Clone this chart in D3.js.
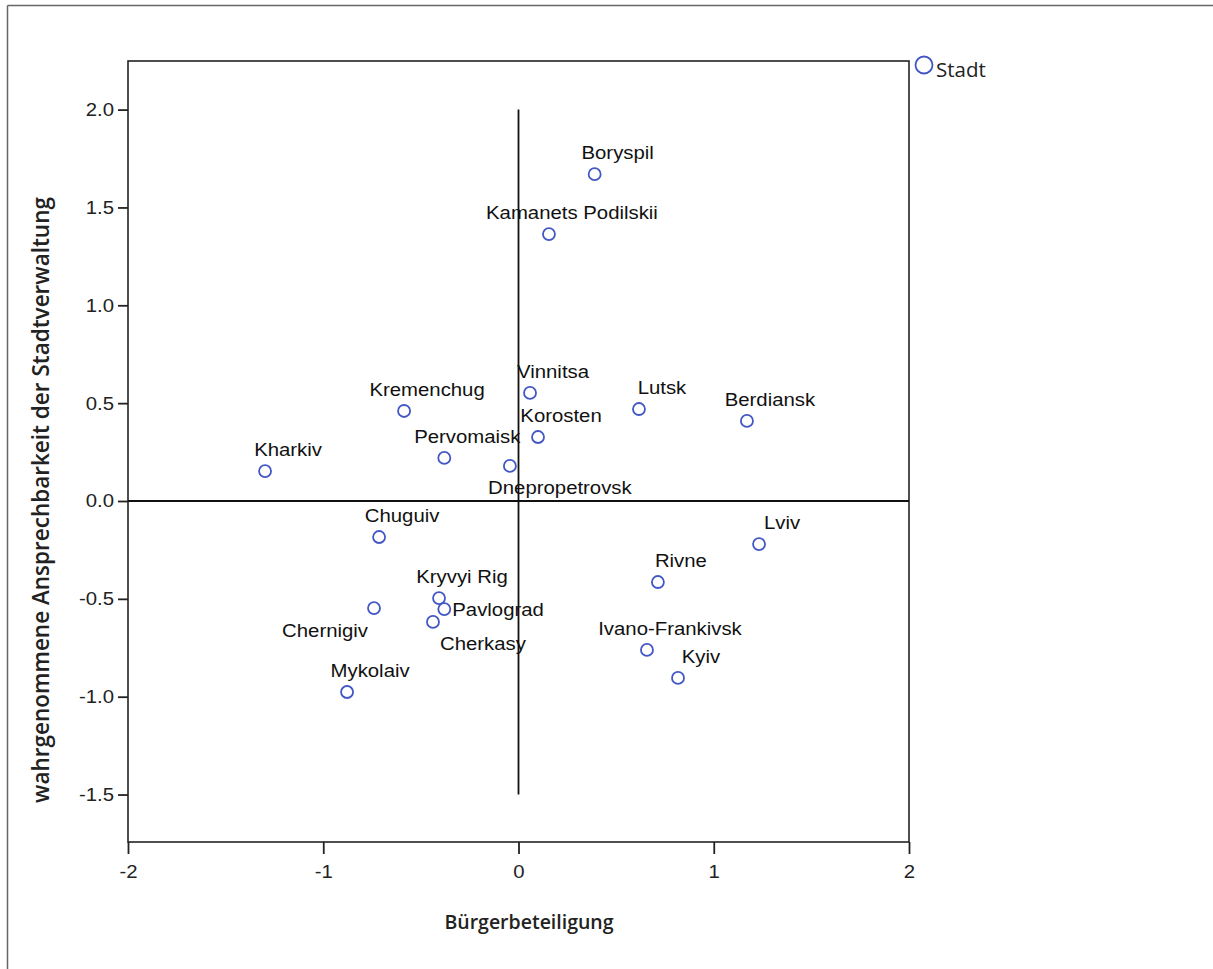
<!DOCTYPE html>
<html><head><meta charset="utf-8">
<script src="https://cdn.jsdelivr.net/npm/d3@7"></script>
<style>body{margin:0;background:#fff}svg{display:block}</style>
</head><body>
<svg id="chart" width="1213" height="969"></svg>
<script>
const cities = ["Boryspil","Kamanets Podilskii","Vinnitsa","Lutsk","Berdiansk","Kremenchug","Korosten","Pervomaisk","Dnepropetrovsk","Kharkiv","Chuguiv","Lviv","Rivne","Kryvyi Rig","Pavlograd","Chernigiv","Cherkasy","Ivano-Frankivsk","Kyiv","Mykolaiv"];
const buergerbeteiligung = [0.39,0.156,0.059,0.617,1.17,-0.586,0.10,-0.38,-0.044,-1.298,-0.714,1.232,0.714,-0.407,-0.38,-0.74,-0.438,0.658,0.817,-0.878];
const ansprechbarkeit = [1.67,1.364,0.552,0.470,0.409,0.46,0.327,0.22,0.179,0.153,-0.184,-0.22,-0.414,-0.496,-0.552,-0.547,-0.618,-0.761,-0.904,-0.976];
const labelPlacement = ["above","above","above","above","above","above","above","above","belowright","above","above","above","above","above","right","belowleft","belowright","above","above","above"];
const xTicks = [-2,-1,0,1,2];
const yTicks = [2.0,1.5,1.0,0.5,0.0,-0.5,-1.0,-1.5];
const xTitle = "Bürgerbeteiligung";
const yTitle = "wahrgenommene Ansprechbarkeit der Stadtverwaltung";
const legendLabel = "Stadt";

const svg = d3.select("#chart");
const L=128,R=909,T=61,B=842;
const x = d3.scaleLinear().domain([-2,2]).range([L,R]);
const y = d3.scaleLinear().domain([0,2]).range([501,109.6]);
const blue = "#4257c4";
const arial = "Liberation Sans, Arial, sans-serif";
const FS = 18.5, SX = 1.1;

// outer border (left & top)
svg.append("line").attr("x1",7.5).attr("x2",1213).attr("y1",5.5).attr("y2",5.5).attr("stroke","#666").attr("stroke-width",1.5);
svg.append("line").attr("x1",7.5).attr("x2",7.5).attr("y1",5.5).attr("y2",969).attr("stroke","#666").attr("stroke-width",1.5);

// frame
svg.append("rect").attr("x",L).attr("y",T).attr("width",R-L).attr("height",B-T)
  .attr("fill","none").attr("stroke","#222").attr("stroke-width",1.6);

// axes
const hy = s => s.replace("\u2212","-");
const xAxis = svg.append("g").attr("transform",`translate(0,${B})`)
  .call(d3.axisBottom(x).tickValues(xTicks).tickSize(12).tickPadding(11).tickFormat(d=>hy(d3.format("d")(d))));
const yAxis = svg.append("g").attr("transform",`translate(${L},0)`)
  .call(d3.axisLeft(y).tickValues(yTicks).tickSize(10).tickPadding(4).tickFormat(d=>d.toFixed(1)));
[xAxis,yAxis].forEach(g=>{
  g.select(".domain").remove();
  g.selectAll("line").attr("stroke","#222").attr("stroke-width",1.8);
  g.selectAll("text").attr("font-family",arial).attr("font-size",FS).attr("fill","#222");
});
// widen tick glyphs like the reference
xAxis.selectAll(".tick text").each(function(){
  const t=d3.select(this); const yy=+t.attr("y");
  t.attr("transform",`translate(0,${yy}) scale(${SX},1)`).attr("y",0);
});
yAxis.selectAll(".tick text").each(function(){
  const t=d3.select(this); const xx=+t.attr("x");
  t.attr("transform",`translate(${xx},0) scale(${SX},1)`).attr("x",0);
});

// reference lines
svg.append("line").attr("x1",L).attr("x2",R).attr("y1",y(0)).attr("y2",y(0)).attr("stroke","#111").attr("stroke-width",1.8);
svg.append("line").attr("x1",x(0)).attr("x2",x(0)).attr("y1",y(2)).attr("y2",y(-1.5)).attr("stroke","#111").attr("stroke-width",1.8);

// points
const data = cities.map((c,i)=>({c,x:buergerbeteiligung[i],y:ansprechbarkeit[i],p:labelPlacement[i]}));
svg.append("g").selectAll("circle").data(data).join("circle")
  .attr("cx",d=>x(d.x)).attr("cy",d=>y(d.y)).attr("r",6)
  .attr("fill","none").attr("stroke",blue).attr("stroke-width",1.8);

const lbl = svg.append("g").attr("font-family",arial).attr("font-size",FS).attr("fill","#111");
data.forEach(d=>{
  const px=x(d.x), py=y(d.y);
  let tx=px+23, ty=py-22+7, anchor="middle";
  if(d.p==="right"){tx=px+8; ty=py+7; anchor="start";}
  if(d.p==="belowright"){tx=px+50; ty=py+21+7;}
  if(d.p==="belowleft"){tx=px-49; ty=py+22+7;}
  lbl.append("text").attr("transform",`translate(${tx},${ty}) scale(${SX},1)`).attr("text-anchor",anchor).text(d.c);
});

// legend
svg.append("circle").attr("cx",924).attr("cy",65).attr("r",8.5).attr("fill","none").attr("stroke",blue).attr("stroke-width",1.8);
svg.append("text").attr("x",936).attr("y",77).attr("font-family","Open Sans, sans-serif").attr("font-size",20.5).attr("fill","#222").text(legendLabel);

// titles
svg.append("text").attr("x",529).attr("y",929).attr("text-anchor","middle")
  .attr("font-family","Open Sans, sans-serif").attr("font-weight",600).attr("font-size",19.5).attr("fill","#222").text(xTitle);
svg.append("text").attr("transform","translate(49,500) rotate(-90)").attr("text-anchor","middle")
  .attr("font-family","Open Sans, sans-serif").attr("font-weight",600).attr("font-size",22.5).attr("fill","#222").text(yTitle);
</script>
</body></html>
